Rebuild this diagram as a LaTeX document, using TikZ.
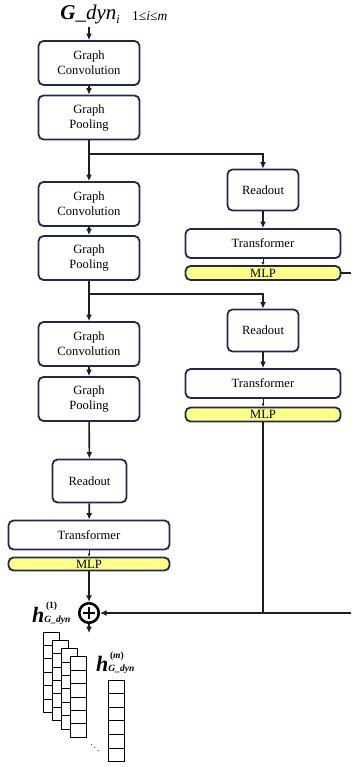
\documentclass[tikz,border=0pt]{standalone}
\usepackage{amsmath}
\usepackage{fontspec}
\setmainfont{Liberation Serif}
\usepackage{tikz}
\usetikzlibrary{arrows.meta}
\definecolor{boxline}{HTML}{1F2850}
\definecolor{mlpfill}{HTML}{FFFF88}
\definecolor{wire}{HTML}{1E1E1E}

\begin{document}
\begin{tikzpicture}[x=1pt,y=-1pt,
		blk/.style={draw=boxline,line width=1.8pt,rounded corners=5pt,fill=white,align=center,inner sep=0pt,font=\fontsize{12.6}{15}\selectfont},
		gbox/.style={blk,minimum width=101pt,minimum height=44pt},
		robox/.style={blk,minimum width=71pt,minimum height=41pt},
		tfbox/.style={blk,minimum width=155pt,minimum height=29pt},
		mlpbox/.style={blk,fill=mlpfill,minimum width=155pt,minimum height=14pt},
		arr/.style={draw=wire,line width=1.6pt,-{Latex[length=6.5pt,width=6pt]}},
		tinyarr/.style={draw=wire,line width=0.6pt,-{Latex[length=3pt,width=3pt]}},
		wireline/.style={draw=wire,line width=1.6pt},
		cell/.style={draw=black,line width=1pt,fill=white}]
		\useasboundingbox (0,0) rectangle (351,767);
		
		% input
		\node[font=\fontsize{21}{21}\selectfont,inner sep=0pt] (gin) at (90,14) {\textbf{\textit{G}}\textit{\_dyn}\raisebox{-4pt}{\fontsize{12}{12}\selectfont\textit{i}}};
		\node[font=\fontsize{13.5}{13.5}\selectfont,anchor=west,inner sep=0pt] (rng) at (132,16) {1≤\textit{i}≤\textit{m}};
		
		% left column
		\node[gbox] (gc1) at (89,63) {Graph\\Convolution};
		\node[gbox] (gp1) at (89,117.5) {Graph\\Pooling};
		\node[gbox] (gc2) at (89,204) {Graph\\Convolution};
		\node[gbox] (gp2) at (89,258) {Graph\\Pooling};
		\node[gbox] (gc3) at (89,344) {Graph\\Convolution};
		\node[gbox] (gp3) at (89,399) {Graph\\Pooling};
		\node[robox,minimum width=74pt,minimum height=43pt] (ro3) at (89.5,481) {Readout};
		\node[tfbox,minimum width=161pt] (tf3) at (89,535) {Transformer};
		\node[mlpbox,minimum width=161pt,minimum height=13pt] (mlp3) at (89,564) {MLP};
		
		% right column
		\node[robox] (ro1) at (263,190) {Readout};
		\node[tfbox] (tf1) at (263,243.5) {Transformer};
		\node[mlpbox] (mlp1) at (263,273) {MLP};
		\node[robox,minimum height=42pt] (ro2) at (263,330.5) {Readout};
		\node[tfbox] (tf2) at (263,383.5) {Transformer};
		\node[mlpbox] (mlp2) at (263,414.5) {MLP};
		
		% sum
		\node[circle,draw=black,line width=2.6pt,minimum size=19.5pt,inner sep=0pt] (plus) at (89,613) {};
		\draw[line width=2.8pt] ([xshift=-6pt]plus.center) -- ([xshift=6pt]plus.center);
		\draw[line width=2.8pt] ([yshift=-6pt]plus.center) -- ([yshift=6pt]plus.center);
		
		\coordinate (br1) at (89,154);
		\coordinate (br2) at (89,294);
		\coordinate (e1) at (351,273);
		\coordinate (e2) at (351,613);
		\coordinate (hout) at (89,633);
		
		% connectors
		\draw[arr] (gin.south -| gc1.north) ++(0,3) -- (gc1.north);
		\draw[arr] (gc1) -- (gp1);
		\draw[arr] (gp1) -- (gc2);
		\draw[arr] (br1) -| (ro1.north);
		\draw[arr] (gc2) -- (gp2);
		\draw[arr] (gp2) -- (gc3);
		\draw[arr] (br2) -| (ro2.north);
		\draw[arr] (gc3) -- (gp3);
		\draw[arr] (gp3) -- (ro3);
		\draw[arr] (ro3) -- (tf3);
		\draw[tinyarr] (tf3) -- (mlp3);
		\draw[arr] (mlp3) -- (plus);
		\draw[arr] (ro1) -- (tf1);
		\draw[tinyarr] (tf1) -- (mlp1);
		\draw[wireline] (mlp1.east) -- (e1);
		\draw[arr] (ro2) -- (tf2);
		\draw[tinyarr] (tf2) -- (mlp2);
		\draw[wireline] (mlp2.south) -- (mlp2.south |- plus.center);
		\draw[arr] (e2) -- (plus);
		\draw[arr] (plus) -- (hout);
		
		% outputs
		\foreach \c in {0,...,3} {
			\foreach \r in {0,...,5} {
				\path[cell] (43+9*\c,632+8.3*\c+13.4*\r) rectangle ++(16,13.4);
			}
		}
		\foreach \r in {0,...,5} {
			\path[cell] (108,680+13.6*\r) rectangle ++(16,13.6);
		}
		\node[anchor=base west,inner sep=0pt] (h1) at (32,622) {\fontsize{22}{22}\selectfont\textbf{\textit{h}}\fontsize{9.5}{14}\selectfont\bfseries\begin{tabular}[b]{@{}l@{}}\,(1)\\\textit{G\_dyn}\end{tabular}};
		\node[anchor=base west,inner sep=0pt] (hm) at (96,671) {\fontsize{22}{22}\selectfont\textbf{\textit{h}}\fontsize{9.5}{13}\selectfont\bfseries\begin{tabular}[b]{@{}l@{}}\,(\textit{m})\\\textit{G\_dyn}\end{tabular}};
		\node[font=\fontsize{9}{9}\selectfont,inner sep=0pt] (dots) at (95,745) {$\ddots$};
	\end{tikzpicture}
\end{document}
